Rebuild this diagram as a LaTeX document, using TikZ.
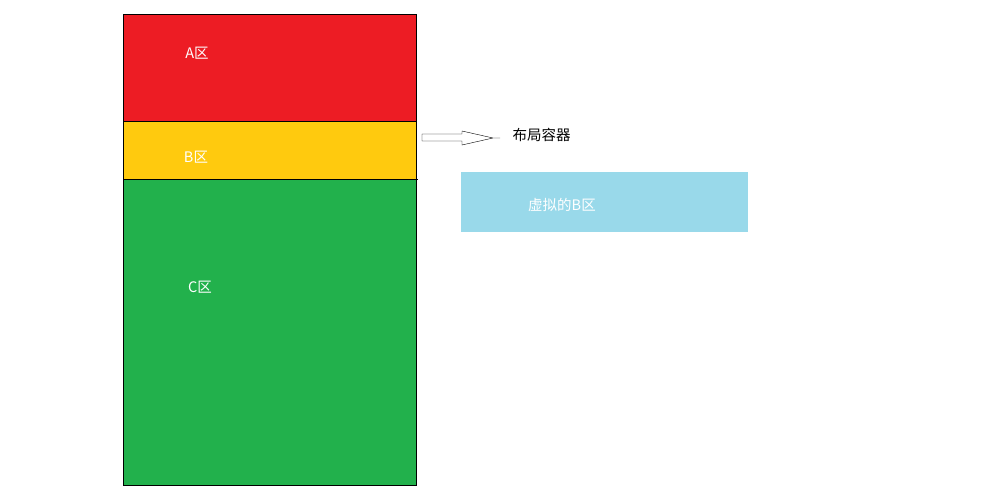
\documentclass[tikz,border=0pt]{standalone}
\usepackage{fontspec}
\setmainfont{Noto Sans CJK SC}
\definecolor{zonered}{RGB}{237,28,36}
\definecolor{zoneyellow}{RGB}{255,202,14}
\definecolor{zonegreen}{RGB}{34,177,76}
\definecolor{zoneblue}{RGB}{153,217,234}
\begin{document}
\begin{tikzpicture}[x=1pt,y=-1pt,font=\fontsize{14.5}{17}\selectfont]
\useasboundingbox (0,0) rectangle (986,495);

\filldraw [draw=black,fill=zonered] (123,14) rectangle (416,121);
\filldraw [draw=black,fill=zoneyellow] (123,121) rectangle (416,179);
\filldraw [draw=black,fill=zonegreen] (123,179) rectangle (416,485);
\draw (416,179)--(418,179);

\fill [zoneblue] (461,172) rectangle (748,232);

\draw [thin] (422,134) -- (462,134) -- (462,131) -- (493,138) -- (500,138)
-- (493,138) -- (462,145) -- (462,141) -- (422,141) -- cycle;

\node [white] (labA) at (197,53) {A区};
\node [white] (labB) at (196,157) {B区};
\node [white] (labC) at (200,287) {C区};
\node [black,anchor=west] (labBox) at (509,135) {布局容器};
\node [white] (labVirt) at (562,205) {虚拟的B区};
\end{tikzpicture}
\end{document}
